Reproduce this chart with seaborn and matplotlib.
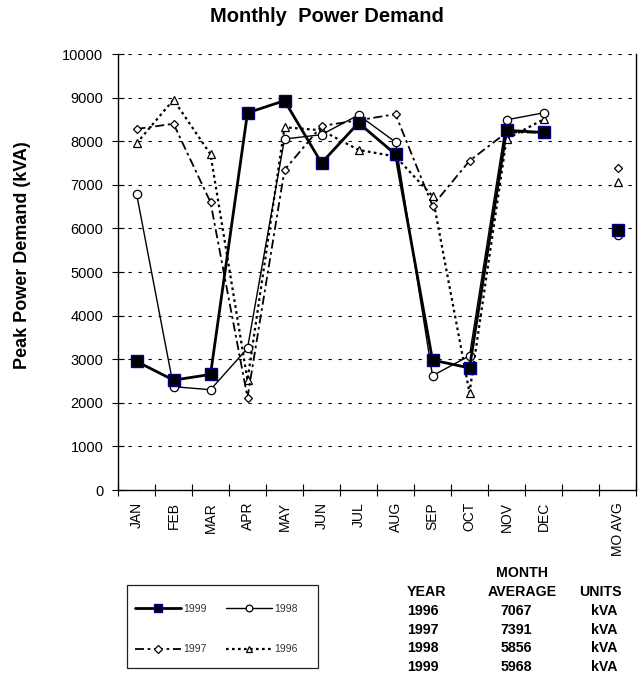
import matplotlib
matplotlib.use("Agg")
import matplotlib.pyplot as plt
from matplotlib.patches import Rectangle
import seaborn as sns
import numpy as np
import pandas as pd

months = ["JAN", "FEB", "MAR", "APR", "MAY", "JUN", "JUL", "AUG", "SEP", "OCT", "NOV", "DEC"]
avg_label = "MO AVG"
years = ["1999", "1998", "1997", "1996"]
v1999 = [2950, 2520, 2650, 8650, 8930, 7500, 8420, 7700, 2980, 2800, 8250, 8200]
v1998 = [6800, 2370, 2300, 3250, 8050, 8150, 8600, 7980, 2620, 3080, 8490, 8650]
v1997 = [8280, 8400, 6600, 2120, 7340, 8350, 8480, 8620, 6520, 7550, 8200, 8200]
v1996 = [7950, 8950, 7700, 2520, 8320, 8250, 7800, 7650, 6740, 2230, 8050, 8500]
averages = {"1996": 7067, "1997": 7391, "1998": 5856, "1999": 5968}
units = "kVA"

series = {"1999": v1999, "1998": v1998, "1997": v1997, "1996": v1996}

sns.set_theme(style="white")
plt.rcParams["font.family"] = ["Liberation Sans", "DejaVu Sans"]
plt.rcParams["text.color"] = "black"
plt.rcParams["xtick.color"] = "black"
plt.rcParams["ytick.color"] = "black"
plt.rcParams["axes.labelcolor"] = "black"

W, H = 639, 675
fig = plt.figure(figsize=(W / 100, H / 100), dpi=100)
ax = fig.add_axes([118 / W, 1 - 490 / H, (636 - 118) / W, (490 - 54) / H])

styles = {
    "1999": dict(color="black", lw=2.0, ls="-", marker="s", ms=8, mfc="black", mec="#000080", mew=1.0),
    "1998": dict(color="black", lw=1.0, ls="-", marker="o", ms=6, mfc="white", mec="black", mew=0.9),
    "1997": dict(color="black", lw=1.3, ls=(0, (5, 2, 1.5, 2)), marker="D", ms=4.5, mfc="white", mec="black", mew=0.9),
    "1996": dict(color="black", lw=1.6, ls=(0, (1.2, 1.5)), marker="^", ms=6, mfc="white", mec="black", mew=0.9),
}
zord = {"1999": 5, "1998": 4, "1997": 3, "1996": 2}

xpos = np.arange(len(months))
avg_x = len(months) + 1
handles = {}
for y in years:
    st = styles[y]
    df = pd.DataFrame({"x": xpos, "v": series[y]})
    sns.lineplot(data=df, x="x", y="v", ax=ax, color=st["color"], linewidth=st["lw"],
                 linestyle=st["ls"], marker=st["marker"], markersize=st["ms"],
                 markerfacecolor=st["mfc"], markeredgecolor=st["mec"], markeredgewidth=st["mew"],
                 zorder=zord[y])
    handles[y] = ax.lines[-1]
for y in ["1996", "1997", "1998", "1999"]:
    st = styles[y]
    ax.plot([avg_x], [averages[y]], linestyle="none", marker=st["marker"], markersize=st["ms"],
            markerfacecolor=st["mfc"], markeredgecolor=st["mec"], markeredgewidth=st["mew"],
            zorder=zord[y])

ax.set_xlim(-0.5, len(months) + 1.5)
ax.set_ylim(0, 10000)
ax.set_yticks(np.arange(0, 10001, 1000))
ax.set_yticklabels([str(v) for v in range(0, 10001, 1000)], fontsize=10.5)
ax.set_xticks(list(xpos) + [avg_x])
ax.set_xticklabels(months + [avg_label], rotation=90, fontsize=10)
ax.set_xticks(np.arange(-0.5, len(months) + 2, 1.0), minor=True)
ax.tick_params(axis="x", which="major", length=0, pad=8.5)
ax.tick_params(axis="x", which="minor", direction="inout", length=8, width=0.8, color="black", bottom=True)
ax.tick_params(axis="y", which="major", direction="inout", length=9, width=0.8, color="black", left=True, pad=6)
ax.set_xlabel("")
ax.set_ylabel("")
ax.yaxis.grid(True, color="black", linestyle=(0, (3, 6)), linewidth=0.8)
ax.xaxis.grid(False)
for s in ["left", "right", "bottom"]:
    ax.spines[s].set_visible(True)
    ax.spines[s].set_color("black")
    ax.spines[s].set_linewidth(1.0)
ax.spines["top"].set_visible(False)

fig.text(23 / W, 1 - 255 / H, "Peak Power Demand (kVA)", rotation=90, ha="center", va="center",
         fontsize=13, fontweight="bold")
fig.text(327 / W, 1 - 17 / H, "Monthly  Power Demand", ha="center", va="center",
         fontsize=14.5, fontweight="bold")

# legend
fig.patches.append(Rectangle((127 / W, 1 - 668 / H), (318 - 127) / W, (668 - 585) / H,
                             transform=fig.transFigure, facecolor="none", edgecolor="#222222",
                             linewidth=0.9, zorder=0))
leg = fig.legend([handles["1999"], handles["1997"], handles["1998"], handles["1996"]],
                 ["1999", "1997", "1998", "1996"], ncol=2, loc="upper left",
                 bbox_to_anchor=(135 / W, 1 - 604 / H), bbox_transform=fig.transFigure,
                 frameon=False, fontsize=7.5, borderaxespad=0, borderpad=0, markerscale=0.8,
                 handlelength=4.4, handletextpad=0.2, labelspacing=2.9, columnspacing=1.9)
for t in leg.get_texts():
    t.set_color("#333333")

# table
tfs = 10.2
fig.text(522 / W, 1 - 573 / H, "MONTH", ha="center", va="center", fontsize=tfs, fontweight="bold")
fig.text(407 / W, 1 - 592 / H, "YEAR", ha="left", va="center", fontsize=tfs, fontweight="bold")
fig.text(522 / W, 1 - 592 / H, "AVERAGE", ha="center", va="center", fontsize=tfs, fontweight="bold")
fig.text(600 / W, 1 - 592 / H, "UNITS", ha="center", va="center", fontsize=tfs, fontweight="bold")
for i, y in enumerate(["1996", "1997", "1998", "1999"]):
    yy = 1 - (611 + 18.7 * i) / H
    fig.text(407 / W, yy, y, ha="left", va="center", fontsize=tfs, fontweight="bold")
    fig.text(516 / W, yy, str(averages[y]), ha="center", va="center", fontsize=tfs, fontweight="bold")
    fig.text(617 / W, yy, units, ha="right", va="center", fontsize=tfs, fontweight="bold")

fig.savefig("out.png", dpi=100)
